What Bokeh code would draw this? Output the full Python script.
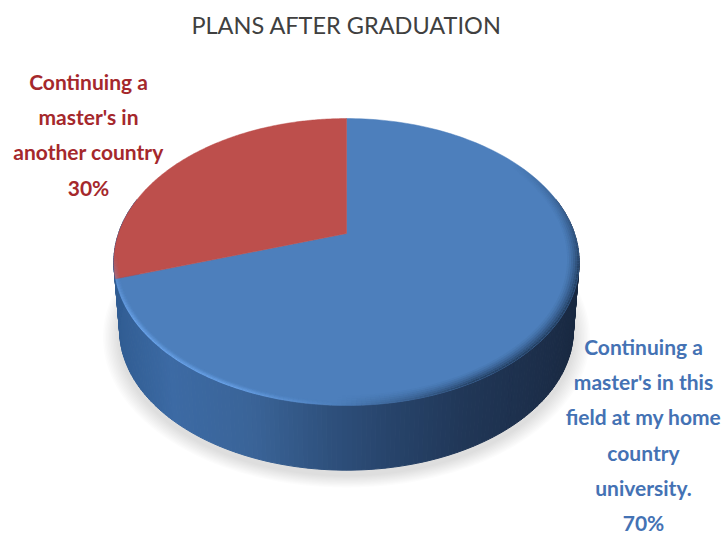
import math
import numpy as np
from bokeh.embed import file_html
from bokeh.models import Range1d
from bokeh.plotting import figure
from bokeh.resources import INLINE
from bokeh.core.properties import value

# Survey responses
title_text = "PLANS AFTER GRADUATION"
categories = [
    ["Continuing a", "master's in this", "field at my home", "country", "university."],
    ["Continuing a", "master's in", "another country"],
]
shares = [70, 30]
slice_colors = ["#4D7FBC", "#BD4F4C"]
label_colors = ["#4472B4", "#A5282C"]

WIDTH, HEIGHT = 723, 535
CX, Y_TOP, Y_BOTTOM = 346.0, 233.0, 302.0
A, B, K = 228.0, 137.8, 0.1987


def project(r, theta, y0=Y_TOP, scale=1.0):
    """Perspective view of a point on a flat disc; theta runs clockwise from 12 o'clock."""
    u, v = r * np.sin(theta), r * np.cos(theta)
    w = 1 + K * v
    return CX + scale * A * u / w, y0 - scale * B * v / w


def mix(stops, t):
    xs = [s[0] for s in stops]
    rgb = [np.interp(t, xs, [s[1][i] for s in stops]) for i in range(3)]
    return "#%02x%02x%02x" % tuple(int(round(c)) for c in rgb)


p = figure(width=WIDTH, height=HEIGHT, output_backend="svg", toolbar_location=None,
           x_range=Range1d(0, WIDTH), y_range=Range1d(HEIGHT, 0),
           min_border=0, outline_line_color=None, background_fill_color="white")
p.axis.visible = False
p.grid.visible = False

# Soft drop shadow under the disc
circle = np.linspace(0, 2 * math.pi, 240)
for grow in range(1, 12):
    sx, sy = project(1.0, circle, Y_BOTTOM + 5, 0.975 + grow * 0.0065)
    p.patch(sx, sy, fill_color="#808080", fill_alpha=0.022, line_color=None)

# Side wall, shaded from left to right in narrow strips
side_stops = [
    (110, (48, 92, 146)), (170, (60, 106, 164)), (250, (58, 100, 152)),
    (330, (46, 80, 124)), (400, (38, 66, 104)), (470, (32, 54, 86)),
    (540, (28, 46, 74)), (580, (24, 40, 64)),
]
edges = np.radians(np.linspace(75, 285, 211))
xs, ys, cols = [], [], []
for a, b in zip(edges[:-1], edges[1:]):
    tx0, ty0 = project(1.0, a)
    tx1, ty1 = project(1.0, b)
    bx0, by0 = project(1.0, a, Y_BOTTOM, 0.975)
    bx1, by1 = project(1.0, b, Y_BOTTOM, 0.975)
    xs.append([tx0, tx1, bx1, bx0])
    ys.append([ty0, ty1, by1, by0])
    cols.append(mix(side_stops, (tx0 + tx1) / 2))
p.patches(xs, ys, fill_color=cols, line_color=cols, line_width=1)

# Pie faces, one wedge for each share
start = 0.0
for share, color in zip(shares, slice_colors):
    end = start + share / sum(shares) * 2 * math.pi
    th = np.linspace(start, end, 180)
    fx, fy = project(1.0, th)
    fx = np.concatenate([[CX], fx])
    fy = np.concatenate([[Y_TOP], fy])
    p.patch(fx, fy, fill_color=color, line_color=color, line_width=0.5)
    start = end

# Bevel along the front rim: a thin bright band on the left, a soft dark one on the right
rim_edges = np.radians(np.linspace(55, 262, 208))
xs, ys, cols, alphas = [], [], [], []
for a, b in zip(rim_edges[:-1], rim_edges[1:]):
    mid = math.degrees((a + b) / 2)
    if mid < 182:
        color, depth = "#1C3350", 0.05
        strength = 0.8 * min(1.0, (mid - 55) / 50) * min(1.0, max(0.0, (182 - mid) / 30))
    else:
        color, depth = "#6FA9F0", 0.022
        strength = 0.95 * min(1.0, (mid - 182) / 22) * min(1.0, (262 - mid) / 25)
    for step in range(6):
        r0, r1 = 1 - depth * step / 6, 1 - depth * (step + 1) / 6
        ox0, oy0 = project(r0, a)
        ox1, oy1 = project(r0, b)
        ix0, iy0 = project(r1, a)
        ix1, iy1 = project(r1, b)
        xs.append([ox0, ox1, ix1, ix0])
        ys.append([oy0, oy1, iy1, iy0])
        cols.append(color)
        alphas.append(strength * (1 - step / 6) ** 1.5)
p.patches(xs, ys, fill_color=cols, fill_alpha=alphas, line_color=None)

# Title and wedge labels
font = value("Lato")
p.text([346], [24], text=[title_text], text_font=font, text_font_size="23.5px",
       text_color="#404040", text_align="center", text_baseline="middle")

label_anchor = [(643, 346), (88, 81)]
for lines, share, color, (lx, ly) in zip(categories, shares, label_colors, label_anchor):
    rows = lines + [f"{share}%"]
    step = 35.2
    p.text([lx] * len(rows), [ly + i * step for i in range(len(rows))], text=rows,
           text_font=font, text_font_style="bold", text_font_size="21px",
           text_color=color, text_align="center", text_baseline="middle")

open("out.html", "w").write(file_html(p, INLINE))
